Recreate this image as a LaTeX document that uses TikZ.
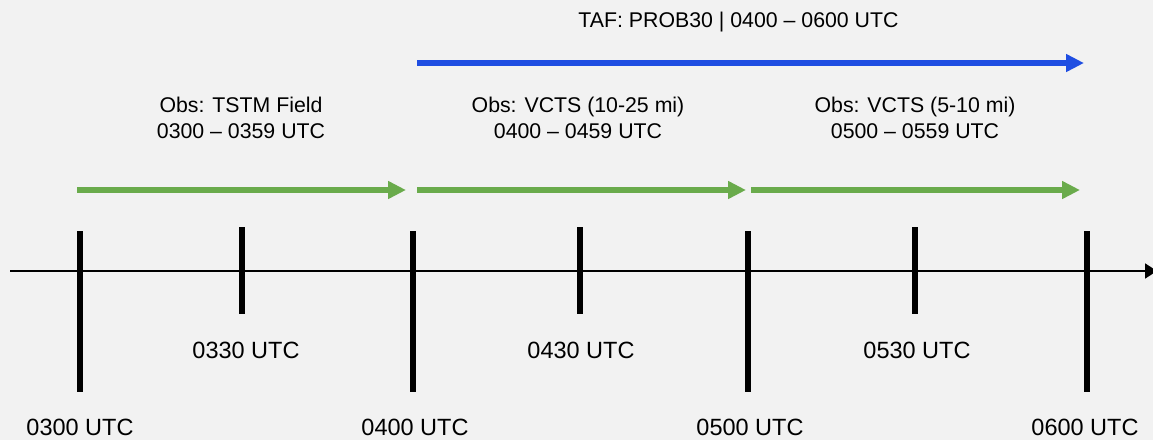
\documentclass[tikz,border=0pt]{standalone}
\usepackage{fontspec}
\setmainfont{Liberation Sans}
\usetikzlibrary{arrows.meta}
\definecolor{bgpage}{HTML}{F2F2F2}
\definecolor{spangreen}{HTML}{6AAB4C}
\definecolor{spanblue}{RGB}{31,78,226}
\tikzset{
  axisline/.style={line width=1.8pt,-{Triangle[length=12pt,width=15pt]}},
  majortick/.style={line width=6pt},
  minortick/.style={line width=5.5pt},
  obsspan/.style={line width=5.5pt,spangreen,-{Triangle[length=18pt,width=17pt]}},
  tafspan/.style={line width=5.5pt,spanblue,-{Triangle[length=18pt,width=17pt]}},
  ticklabel/.style={anchor=base,font=\fontsize{23.5}{28}\selectfont,inner sep=0pt},
  spanlabel/.style={anchor=base,align=center,font=\fontsize{21.3}{26.5}\selectfont,inner sep=0pt},
}
\begin{document}
\begin{tikzpicture}[x=1pt,y=-1pt]
  \fill[bgpage] (0,0) rectangle (1153,440);
  \useasboundingbox (0,0) rectangle (1153,440);

  % time axis
  \coordinate (axL) at (10,271);
  \coordinate (axR) at (1157,271);
  \draw[axisline] (axL) -- (axR);

  % hour ticks
  \foreach \n/\x in {h3/80,h4/413,h5/748,h6/1087}{
    \coordinate (\n t) at (\x,231);
    \coordinate (\n b) at (\x,392);
    \draw[majortick] (\n t) -- (\n b);
  }
  % half-hour ticks
  \foreach \n/\x in {m3/242,m4/580,m5/915}{
    \coordinate (\n t) at (\x,227);
    \coordinate (\n b) at (\x,314);
    \draw[minortick] (\n t) -- (\n b);
  }

  % tick labels
  \node[ticklabel] (l0300) at (80,435) {0300 UTC};
  \node[ticklabel] (l0400) at (415,435) {0400 UTC};
  \node[ticklabel] (l0500) at (750,435) {0500 UTC};
  \node[ticklabel] (l0600) at (1085,435) {0600 UTC};
  \node[ticklabel] (l0330) at (246,358) {0330 UTC};
  \node[ticklabel] (l0430) at (581,358) {0430 UTC};
  \node[ticklabel] (l0530) at (917,358) {0530 UTC};

  % observation spans
  \coordinate (o3s) at (77,190);   \coordinate (o3e) at (406,190);
  \coordinate (o4s) at (417,190);  \coordinate (o4e) at (746,190);
  \coordinate (o5s) at (751,190);  \coordinate (o5e) at (1080,190);
  \draw[obsspan] (o3s) -- (o3e);
  \draw[obsspan] (o4s) -- (o4e);
  \draw[obsspan] (o5s) -- (o5e);

  % forecast span
  \coordinate (tafs) at (417,63);  \coordinate (tafe) at (1084,63);
  \draw[tafspan] (tafs) -- (tafe);

  % span labels (base anchor sits on the last line)
  \node[spanlabel] (taf) at (738.5,27) {TAF: PROB30 | 0400 – 0600 UTC};
  \node[spanlabel] (obs3) at (241,138.5) {Obs: TSTM Field\\0300 – 0359 UTC};
  \node[spanlabel] (obs4) at (578,138.5) {Obs: VCTS (10-25 mi)\\0400 – 0459 UTC};
  \node[spanlabel] (obs5) at (915,138.5) {Obs: VCTS (5-10 mi)\\0500 – 0559 UTC};
\end{tikzpicture}
\end{document}
